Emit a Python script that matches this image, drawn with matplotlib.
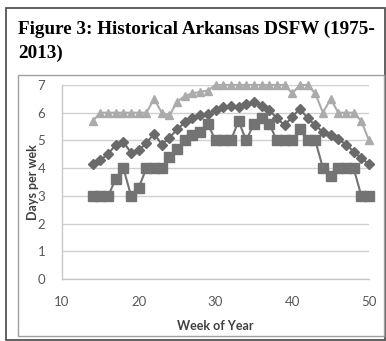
import matplotlib
matplotlib.use("Agg")
import matplotlib.pyplot as plt
from matplotlib.patches import Rectangle

weeks = list(range(14, 51))
diamonds = [4.15, 4.3, 4.5, 4.85, 4.95, 4.55, 4.65, 4.9, 5.25, 4.85, 5.1, 5.4, 5.65,
            5.8, 5.9, 5.95, 6.1, 6.2, 6.25, 6.2, 6.3, 6.4, 6.25, 6.1, 5.8, 5.55, 5.85,
            6.15, 5.8, 5.55, 5.3, 5.2, 5.05, 4.85, 4.6, 4.35, 4.15]
squares = [3.0, 3.0, 3.0, 3.6, 4.0, 3.0, 3.3, 4.0, 4.0, 4.0, 4.4, 4.7, 5.0, 5.2, 5.3,
           5.6, 5.0, 5.0, 5.0, 5.7, 5.0, 5.6, 5.8, 5.6, 5.0, 5.0, 5.0, 5.4, 5.0, 5.0,
           4.0, 3.7, 4.0, 4.0, 4.0, 3.0, 3.0]
triangles = [5.7, 6.0, 6.0, 6.0, 6.0, 6.0, 6.0, 6.0, 6.5, 6.0, 5.9, 6.4, 6.6, 6.7,
             6.75, 6.8, 7.0, 7.0, 7.0, 7.0, 7.0, 7.0, 7.0, 7.0, 7.0, 7.0, 6.7, 7.0,
             7.0, 6.7, 6.0, 6.5, 6.0, 6.0, 6.0, 5.7, 5.0]
x_ticks = [10, 20, 30, 40, 50]
y_ticks = [0, 1, 2, 3, 4, 5, 6, 7]
title_line1 = "Figure 3: Historical Arkansas DSFW (1975-"
title_line2 = "2013)"
x_label = "Week of Year"
y_label = "Days per wek"

W, H = 386, 341
fig = plt.figure(figsize=(W / 100, H / 100), dpi=100)
fig.patch.set_facecolor("white")

# borders
fig.patches.append(Rectangle((6 / W, 1 - 340 / H), 379 / W, 332 / H,
                             transform=fig.transFigure, fill=False,
                             edgecolor="#555555", lw=1.3))
fig.patches.append(Rectangle((18 / W, 1 - 336 / H), 366 / W, 261 / H,
                             transform=fig.transFigure, fill=False,
                             edgecolor="#a0a0a0", lw=1.0))

fig.text(18 / W, 1 - 34 / H, title_line1, fontfamily="Liberation Serif",
         fontweight="bold", fontsize=13.8, va="baseline", ha="left")
fig.text(18 / W, 1 - 58 / H, title_line2, fontfamily="Liberation Serif",
         fontweight="bold", fontsize=13.8, va="baseline", ha="left")

ax = fig.add_axes([62 / W, 1 - 279 / H, (369 - 62) / W, (279 - 85) / H])
ax.set_xlim(10, 50)
ax.set_ylim(0, 7)
ax.set_xticks(x_ticks)
ax.set_yticks(y_ticks)
ax.grid(axis="y", color="#d0d0d0", lw=1.0)
ax.set_axisbelow(True)
for s in ["top", "right"]:
    ax.spines[s].set_visible(False)
for s in ["left", "bottom"]:
    ax.spines[s].set_color("#c8c8c8")
    ax.spines[s].set_linewidth(1.0)
ax.tick_params(length=0, labelsize=9.5, labelcolor="#595959", pad=12)
for lab in ax.get_xticklabels() + ax.get_yticklabels():
    lab.set_fontfamily("Lato")

ax.plot(weeks, diamonds, color="#6a6a6a", lw=1.5, marker="D", ms=5.5,
        clip_on=False, zorder=3)
ax.plot(weeks, squares, color="#737373", lw=1.5, marker="s", ms=6.8,
        clip_on=False, zorder=4)
ax.plot(weeks, triangles, color="#ababab", lw=1.5, marker="^", ms=6,
        clip_on=False, zorder=5)

fig.text(215 / W, 1 - 326 / H, x_label, fontfamily="Lato", fontweight="bold",
         fontsize=9, ha="center", va="center", color="#404040")
fig.text(33 / W, 1 - 182 / H, y_label, fontfamily="Lato", fontweight="bold",
         fontsize=9, ha="center", va="center", rotation=90, color="#404040")

fig.savefig("out.png", dpi=100, facecolor="white")
